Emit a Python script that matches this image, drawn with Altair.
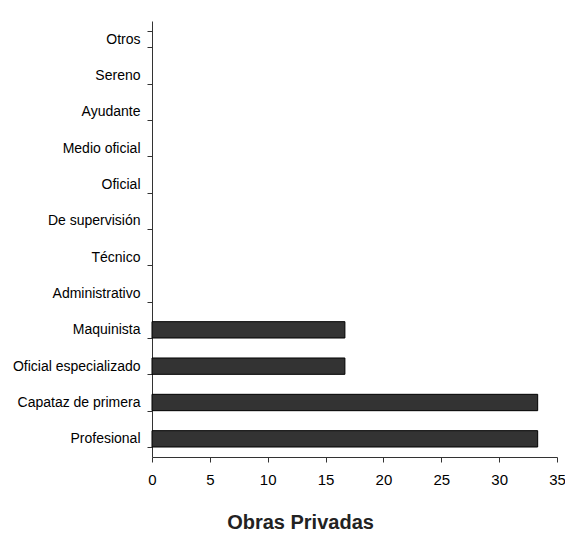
import altair as alt
import pandas as pd

categories = ["Otros", "Sereno", "Ayudante", "Medio oficial", "Oficial",
              "De supervisión", "Técnico", "Administrativo", "Maquinista",
              "Oficial especializado", "Capataz de primera", "Profesional"]
values = [0, 0, 0, 0, 0, 0, 0, 0, 16.67, 16.67, 33.33, 33.33]
x_ticks = [0, 5, 10, 15, 20, 25, 30, 35]
title_text = "Obras Privadas"

df = pd.DataFrame({"cat": categories, "val": values})

FONT = "Liberation Sans"

chart = alt.Chart(df).transform_filter(
    alt.datum.val > 0
).mark_bar(
    color="#333333", stroke="#000000", strokeWidth=1
).encode(
    x=alt.X("val:Q",
            scale=alt.Scale(domain=[0, 35], nice=False, zero=True),
            axis=alt.Axis(values=x_ticks, grid=False, title=title_text,
                          titleFont=FONT, titleFontSize=20, titleFontWeight="bold",
                          titleColor="#222222", titleX=148, titleY=71,
                          titleAlign="center", titleBaseline="alphabetic",
                          labelFont=FONT, labelFontSize=15, labelColor="#000000",
                          tickSize=5, labelPadding=10, domainColor="#333333",
                          tickColor="#333333", labelFlush=False)),
    y=alt.Y("cat:N", sort=categories,
            scale=alt.Scale(domain=categories, paddingInner=0.55, paddingOuter=0.275),
            axis=alt.Axis(title=None, tickBand="extent", labelFont=FONT,
                          labelFontSize=14, labelColor="#000000", tickSize=5,
                          labelPadding=7, domainColor="#333333",
                          tickColor="#333333", grid=False)),
).properties(
    width=405, height=436,
    background="white",
    autosize=alt.AutoSizeParams(type="none"),
    padding={"left": 144, "top": 13, "right": 8, "bottom": 76},
).configure_view(stroke=None)

chart.save("out.html", embed_options={"renderer": "svg", "actions": False})
